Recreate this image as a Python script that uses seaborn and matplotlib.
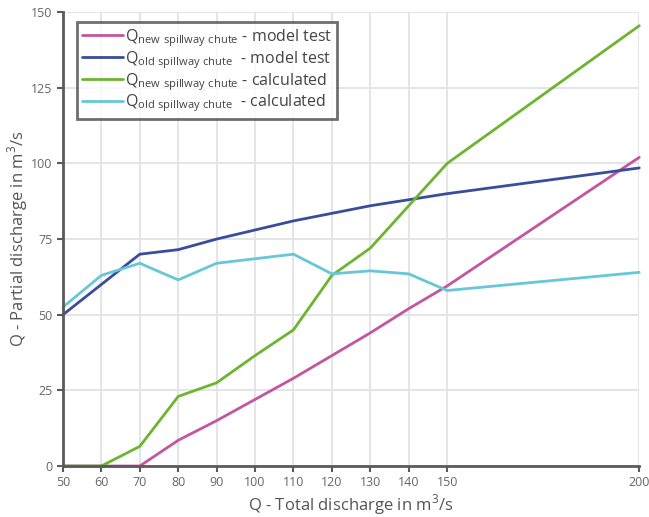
import matplotlib
matplotlib.use("Agg")
import matplotlib.pyplot as plt
import seaborn as sns
import pandas as pd

x_total = [50, 60, 70, 80, 90, 100, 110, 120, 130, 140, 150, 200]
new_model = [0, 0, 0, 8.5, 15, 22, 29, 36.5, 44, 52, 59.5, 102]
old_model = [50, 60, 70, 71.5, 75, 78, 81, 83.5, 86, 88, 90, 98.5]
new_calc = [0, 0, 6.5, 23, 27.5, 36.5, 45, 63, 72, 86, 100, 145.5]
old_calc = [52.5, 63, 67, 61.5, 67, 68.5, 70, 63.5, 64.5, 63.5, 58, 64]

labels = [
    r"Q$_{\mathregular{new\ spillway\ chute}}$ - model test",
    r"Q$_{\mathregular{old\ spillway\ chute}}$  - model test",
    r"Q$_{\mathregular{new\ spillway\ chute}}$ - calculated",
    r"Q$_{\mathregular{old\ spillway\ chute}}$  - calculated",
]
colors = ["#c455a0", "#3a4c9c", "#6cb530", "#66c8d6"]
x_ticks = [50, 60, 70, 80, 90, 100, 110, 120, 130, 140, 150, 200]
y_ticks = [0, 25, 50, 75, 100, 125, 150]

frames = []
for lab, vals in zip(labels, [new_model, old_model, new_calc, old_calc]):
    frames.append(pd.DataFrame({"x": x_total, "y": vals, "series": lab}))
df = pd.concat(frames, ignore_index=True)

sns.set_theme(style="white")
plt.rcParams["font.family"] = ["Open Sans", "DejaVu Sans"]
plt.rcParams["mathtext.fontset"] = "custom"
plt.rcParams["mathtext.rm"] = "Open Sans"

fig = plt.figure(figsize=(6.49, 5.17), dpi=100)
ax = fig.add_axes([0.097, 0.0986, 0.888, 0.878])

sns.lineplot(data=df, x="x", y="y", hue="series", palette=colors,
             hue_order=labels, linewidth=2, ax=ax, legend=True)
for ln in ax.lines:
    ln.set_clip_on(False)

ax.set_xlim(50, 200)
ax.set_ylim(0, 150)
ax.set_xticks(x_ticks)
ax.set_yticks(y_ticks)
ax.grid(True, color="#e3e3e6", linewidth=1.3)
ax.set_axisbelow(True)
for s in ["top", "right"]:
    ax.spines[s].set_visible(False)
for s in ["left", "bottom"]:
    ax.spines[s].set_color("#5a5a5a")
    ax.spines[s].set_linewidth(2)
ax.tick_params(axis="both", colors="#5a5a5a", labelcolor="#666666",
               labelsize=9, length=4, width=1.5, direction="out", left=True, bottom=True)

ax.set_xlabel(r"Q - Total discharge in m$^3$/s", fontsize=12, color="#555555", labelpad=2)
ax.set_ylabel(r"Q - Partial discharge in m$^3$/s", fontsize=12, color="#555555")
ax.yaxis.set_label_coords(-0.058, 0.5)

leg = ax.legend(loc="upper left", bbox_to_anchor=(0.024, 0.978), frameon=True,
                fancybox=False, fontsize=11.5, handlelength=2.6, handletextpad=0.1,
                borderpad=0.3, labelspacing=0.0, borderaxespad=0)
leg.get_frame().set_edgecolor("#4a4a4a")
leg.get_frame().set_linewidth(2)
for t in leg.get_texts():
    t.set_color("#444444")

fig.savefig("out.png", dpi=100)
